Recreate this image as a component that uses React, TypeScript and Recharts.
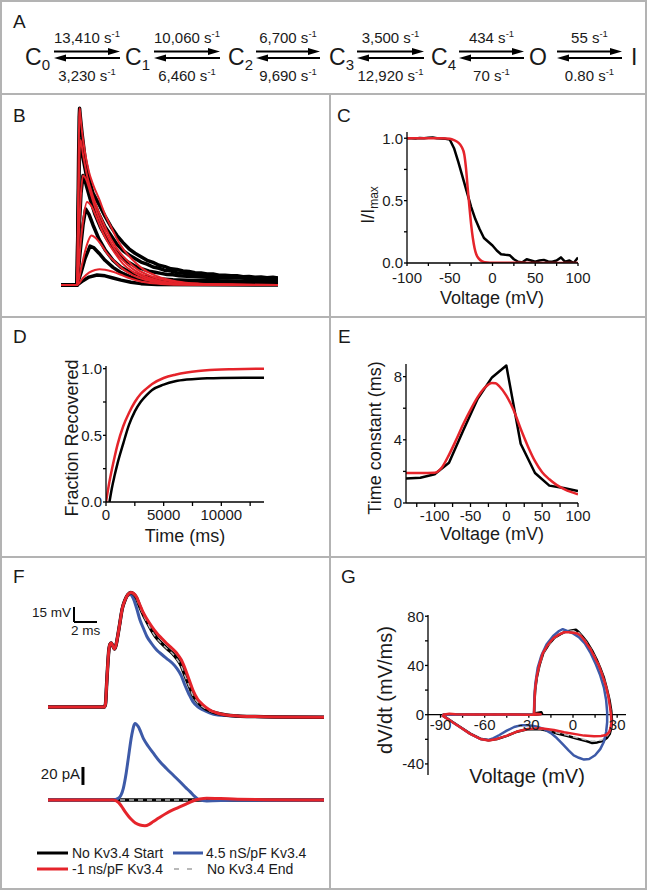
import { LineChart, Line, XAxis, YAxis, ReferenceLine, ReferenceDot } from 'recharts';

const FONT = '"Liberation Sans", Arial, Helvetica, sans-serif';
const INK = '#1a1a1a';
const RED = '#e5242b';
const BLUE = '#3d5aa8';
const DASH = '#b9b9b9';
const RULE = '#b3b3b3';

// ---- A: kinetic scheme ----
const stateNames = ['C', 'C', 'C', 'C', 'C', 'O', 'I'];
const stateSubs = ['0', '1', '2', '3', '4', '', ''];
const forwardRates = ['13,410', '10,060', '6,700', '3,500', '434', '55'];
const backwardRates = ['3,230', '6,460', '9,690', '12,920', '70', '0.80'];

// ---- B: inactivation traces (t ms, normalised current) ----
const bBlack1 = [[-8,0],[0,0],[0.4,0.3],[0.8,0.72],[1.1,0.95],[1.3,1.0],[1.6,0.96],[2.5,0.86],[4,0.72],[6,0.6],[8,0.52],[11.3,0.45],[14,0.39],[17,0.33],[20,0.28],[23,0.24],[26,0.205],[29,0.18],[32,0.16],[35,0.14],[38,0.128],[41,0.112],[44,0.104],[47,0.092],[50,0.088],[53,0.08],[56,0.077],[59,0.07],[62,0.068],[65,0.062],[68,0.063],[71,0.056],[74,0.055],[77,0.052],[80,0.053],[83,0.047],[86,0.049],[89,0.044],[92,0.046],[95,0.041],[98,0.044],[100.5,0.04]];
const bBlack2 = [[-8,0],[0,0],[0.6,0.4],[1.2,0.72],[1.8,0.82],[3,0.72],[5,0.6],[8,0.48],[11,0.4],[14,0.33],[17,0.28],[20,0.23],[23,0.195],[26,0.17],[29,0.15],[32,0.13],[35,0.118],[38,0.102],[41,0.095],[44,0.083],[47,0.079],[50,0.07],[53,0.068],[56,0.061],[59,0.06],[62,0.054],[65,0.055],[68,0.049],[71,0.05],[74,0.045],[77,0.047],[80,0.042],[83,0.044],[86,0.039],[89,0.041],[92,0.037],[95,0.04],[98,0.036],[100.5,0.038]];
const bBlack3 = [[-8,0],[0,0],[1,0.3],[2,0.52],[3,0.62],[4.5,0.57],[6.5,0.49],[9,0.4],[12,0.32],[15,0.26],[18,0.21],[21,0.17],[24,0.14],[27,0.12],[30,0.1],[33,0.09],[36,0.078],[39,0.072],[42,0.066],[45,0.06],[48,0.058],[51,0.052],[55,0.05],[60,0.047],[65,0.044],[70,0.045],[75,0.04],[80,0.042],[85,0.037],[90,0.039],[95,0.035],[100.5,0.036]];
const bBlack4 = [[-8,0],[0,0],[1.5,0.18],[3,0.34],[4.3,0.43],[6,0.4],[8,0.34],[11,0.26],[14,0.2],[18,0.14],[22,0.1],[27,0.07],[33,0.05],[40,0.036],[48,0.03],[58,0.026],[70,0.024],[85,0.021],[100.5,0.02]];
const bBlack5 = [[-8,0],[0,0],[2,0.07],[4,0.15],[6.5,0.22],[8.5,0.21],[11,0.18],[14,0.14],[18,0.1],[22,0.07],[27,0.045],[33,0.03],[42,0.02],[55,0.015],[100.5,0.012]];
const bBlack6 = [[-8,0],[0,0],[3,0.025],[6,0.045],[10,0.057],[14,0.052],[18,0.04],[22,0.028],[27,0.016],[32,0.008],[40,0.003],[100.5,0]];
const bRed1 = [[-8,0],[0,0],[0.4,0.3],[0.8,0.72],[1.1,0.95],[1.3,1.0],[1.6,0.97],[2.5,0.87],[4,0.75],[6,0.64],[8,0.57],[11.3,0.48],[14,0.4],[17,0.33],[20,0.26],[24,0.19],[28,0.14],[33,0.09],[40,0.05],[50,0.02],[61,0.008],[80,0.002],[100.5,0]];
const bRed2 = [[-8,0],[0,0],[0.6,0.4],[1.2,0.72],[1.8,0.82],[3,0.74],[5,0.62],[8,0.5],[11,0.41],[14,0.33],[17,0.26],[21,0.19],[25,0.14],[30,0.09],[37,0.05],[45,0.025],[60,0.007],[100.5,0]];
const bRed3 = [[-8,0],[0,0],[1,0.3],[2,0.52],[3,0.62],[4.5,0.6],[6.5,0.53],[9,0.44],[12,0.35],[15,0.28],[19,0.2],[23,0.14],[28,0.09],[34,0.05],[42,0.022],[55,0.006],[100.5,0]];
const bRed4 = [[-8,0],[0,0],[1.5,0.2],[3,0.36],[5,0.47],[7,0.45],[9.5,0.39],[12,0.32],[15,0.25],[19,0.18],[23,0.12],[28,0.075],[34,0.04],[42,0.016],[55,0.004],[100.5,0]];
const bRed5 = [[-8,0],[0,0],[2,0.09],[4,0.19],[6,0.26],[7.2,0.28],[9,0.27],[12,0.23],[15,0.18],[19,0.13],[23,0.09],[28,0.055],[34,0.03],[42,0.012],[55,0.003],[100.5,0]];
const bRed6 = [[-8,0],[0,0],[3,0.04],[6,0.07],[9,0.085],[11.3,0.09],[14,0.087],[18,0.075],[22,0.058],[26,0.04],[30,0.026],[35,0.014],[42,0.006],[55,0.001],[100.5,0]];

// ---- C: steady-state inactivation (mV, I/Imax) ----
const cBlack = [[-100,1.0],[-95,1.0],[-90,0.998],[-85,1.002],[-80,1.0],[-75,1.004],[-70,1.006],[-65,1.0],[-60,0.998],[-55,0.995],[-50,0.99],[-45,0.92],[-40,0.81],[-35,0.69],[-30,0.57],[-25,0.45],[-20,0.35],[-15,0.27],[-10,0.2],[-5,0.17],[0,0.14],[5,0.1],[10,0.07],[15,0.066],[20,0.063],[25,0.03],[30,0.01],[35,0.005],[40,0.03],[45,0.02],[50,0.01],[55,0.02],[60,0.025],[65,0.012],[70,0.01],[75,0.02],[80,0.045],[85,0.01],[90,0.02],[95,0.0],[100,0.045]];
const cRed = [[-100,1],[-70,1],[-60,0.999],[-50,0.995],[-45,0.985],[-40,0.965],[-36,0.93],[-33,0.87],[-31,0.76],[-29,0.6],[-27,0.45],[-25,0.31],[-23,0.2],[-21,0.12],[-19,0.07],[-16,0.035],[-12,0.014],[-6,0.004],[0,0.002],[50,0.001],[100,0]];

// ---- D: recovery from inactivation (ms, fraction) ----
const dBlack = [[300,0],[500,0.1],[750,0.2],[1000,0.29],[1500,0.44],[2000,0.58],[2500,0.68],[3000,0.75],[3500,0.8],[4000,0.84],[5000,0.88],[6000,0.905],[7000,0.918],[8000,0.925],[9000,0.928],[10000,0.93],[12000,0.931],[13700,0.932]];
const dRed = [[0,0],[250,0.13],[500,0.24],[750,0.34],[1000,0.43],[1500,0.57],[2000,0.67],[2500,0.75],[3000,0.81],[3500,0.85],[4000,0.885],[5000,0.93],[6000,0.955],[7000,0.972],[8000,0.983],[9000,0.99],[10000,0.994],[11000,0.996],[12000,0.998],[13700,1.0]];

// ---- E: time constants (mV, ms) ----
const eBlack = [[-140,1.55],[-120,1.6],[-100,1.82],[-80,2.55],[-60,4.6],[-40,6.6],[-20,7.95],[0,8.7],[20,3.75],[40,1.9],[60,1.1],[80,0.95],[100,0.75]];
const eRed = [[-140,1.9],[-120,1.9],[-100,1.92],[-90,2.25],[-80,3.05],[-70,4.0],[-60,5.0],[-50,5.9],[-40,6.7],[-30,7.3],[-20,7.6],[-15,7.58],[-10,7.4],[0,6.8],[10,5.9],[20,4.7],[30,3.6],[40,2.65],[50,1.95],[60,1.5],[70,1.15],[80,0.9],[90,0.7],[100,0.55]];

// ---- F: action potentials (ms, mV) and Kv3.4 currents (ms, pA) ----
const fVBlack = [[0,-88],[4.9,-88],[5.0,-85],[5.1,-65],[5.2,-45],[5.3,-30],[5.4,-25],[5.5,-24],[5.62,-26.5],[5.78,-30],[5.92,-26],[6.05,-18],[6.25,-4],[6.45,10],[6.7,19],[6.95,24.5],[7.2,26.5],[7.45,25],[7.7,21],[8.0,12],[8.3,4],[8.6,-2.7],[9.0,-11],[9.45,-19],[9.9,-24.5],[10.3,-29],[10.8,-34],[11.2,-39.5],[11.6,-47],[11.9,-56],[12.25,-66],[12.6,-76],[13.0,-83],[13.5,-88],[14.0,-91.5],[14.7,-94.3],[15.5,-96],[16.5,-97],[18,-97.6],[20,-98],[24,-98.3]];
const fVGray = [[0,-88],[4.9,-88],[5.0,-85],[5.1,-65],[5.2,-45],[5.3,-30],[5.4,-25],[5.5,-24],[5.62,-26.5],[5.78,-30],[5.92,-26],[6.05,-18],[6.25,-4],[6.45,10],[6.7,19],[6.95,24.5],[7.2,26.4],[7.45,24.8],[7.7,20.6],[8.0,11.6],[8.3,3.6],[8.6,-3],[9.0,-11.4],[9.45,-19.3],[9.9,-24.8],[10.3,-29.3],[10.8,-34.3],[11.2,-40],[11.6,-47.5],[11.9,-56.5],[12.25,-66.5],[12.6,-76.5],[13.0,-83.3],[13.5,-88.2],[14.0,-91.6],[14.7,-94.3],[15.5,-96],[16.5,-97],[18,-97.6],[20,-98],[24,-98.3]];
const fVBlue = [[0,-88],[4.9,-88],[5.0,-85],[5.1,-65],[5.2,-45],[5.3,-30],[5.4,-25],[5.5,-24],[5.62,-26.5],[5.78,-30],[5.92,-26],[6.05,-18],[6.25,-4],[6.45,10],[6.7,19],[6.95,24],[7.15,24.5],[7.4,21],[7.7,11],[8.0,-1],[8.3,-9.5],[8.6,-17.5],[9.0,-24.5],[9.45,-31],[9.9,-35.5],[10.3,-39.3],[10.8,-44],[11.2,-49.3],[11.6,-57],[11.9,-66],[12.25,-75],[12.6,-82.7],[13.0,-87.5],[13.5,-91],[14.0,-93.5],[14.4,-95.3],[15.5,-96.6],[16.5,-97.2],[18,-97.6],[20,-98],[24,-98.3]];
const fVRed = [[0,-88],[4.9,-88],[5.0,-85],[5.1,-65],[5.2,-45],[5.3,-30],[5.4,-25],[5.5,-24],[5.62,-26.5],[5.78,-30],[5.92,-26],[6.05,-18],[6.25,-4],[6.45,10],[6.7,19],[6.95,24.5],[7.2,26.5],[7.45,25.5],[7.7,22],[8.0,14],[8.3,6],[8.6,0],[9.0,-7],[9.45,-14],[9.9,-19.5],[10.3,-24.3],[10.8,-29.5],[11.2,-34.3],[11.6,-41],[11.9,-49],[12.25,-60],[12.6,-71],[13.0,-80],[13.5,-86],[14.0,-90.5],[14.7,-94],[15.5,-96],[16.5,-97],[18,-97.6],[20,-98],[24,-98.3]];
const fIBlack = [[0,0],[24,0]];
const fIGray = [[0,0],[24,0]];
const fIBlue = [[0,0],[5.68,0],[6.12,1.9],[6.55,13],[6.8,30],[6.98,46],[7.28,72],[7.57,85],[7.85,81.5],[8.29,68.5],[8.7,60],[9.16,52],[9.7,43],[10.3,35],[10.9,27.5],[11.5,20],[12.0,13.5],[12.35,9.3],[12.7,4.5],[13.07,0.7],[13.8,-1],[16.1,-0.4],[24,0]];
const fIRed = [[0,0],[5.68,0],[6.12,-2.6],[6.4,-7],[6.7,-13],[7.0,-18],[7.28,-22],[7.6,-25.5],[8.0,-27.8],[8.43,-28.5],[8.8,-27],[9.16,-24],[9.7,-19.5],[10.3,-14.8],[10.9,-10.8],[11.5,-7.4],[12.0,-4.5],[12.6,-1.1],[13.2,1],[13.8,1.9],[15,1.6],[16.1,1.1],[19,0.4],[24,0]];
const fLegend = ['No Kv3.4 Start', '4.5 nS/pF Kv3.4', '-1 ns/pF Kv3.4', 'No Kv3.4 End'];

// ---- G: phase plots (mV, mV/ms) ----
const gBlack = [[-88.5,0],[-80,0.2],[-60,0.1],[-40,0.1],[-27,0],[-21,0.8],[-21.5,2],[-26.4,1],[-26.2,10],[-25.7,20],[-24.6,30],[-22.8,40],[-20.2,50],[-16.5,57],[-12.5,62.5],[-8.5,65.5],[-5,67.5],[-1,68.5],[2,69],[4,67],[6.5,63.5],[9.5,59],[13,52],[16,45],[18.5,38],[21,30],[23,21],[24.8,12],[26,3],[26.5,-5],[26,-11],[25,-15.5],[23,-19],[20,-21.5],[16.5,-22.5],[13,-23],[9,-21.5],[3,-19.5],[-3,-17.5],[-10,-15.5],[-17,-13],[-22,-11.8],[-31,-11.8],[-38,-13.8],[-44.8,-17.2],[-51.6,-19.7],[-57.3,-20.8],[-63,-19.5],[-69.8,-15.4],[-76.6,-10],[-82.3,-5.5],[-86.8,-2],[-89,-0.4]];
const gGray = [[-88.5,0],[-60,0.1],[-27,0],[-26.4,1],[-26.2,10],[-25.7,20],[-24.6,30],[-22.8,40],[-20.2,50],[-16.5,57],[-12.5,62.5],[-8.5,65.5],[-5,67.2],[-1,68],[2,68.2],[4,66.5],[6.5,63],[9.5,58.5],[13,51.5],[16,44.5],[18.5,37.5],[21,29.5],[23,20.5],[24.6,11.5],[25.7,3],[26.2,-5],[25.7,-11],[24.6,-15],[22.6,-18.3],[19.6,-20.5],[16.5,-21.2],[13,-21.5],[9,-20.5],[3,-18.8],[-3,-17],[-10,-15],[-17,-12.8],[-22,-11.6],[-31,-11.8],[-38,-13.8],[-44.8,-17.1],[-51.6,-19.7],[-57.3,-20.9],[-63,-19.6],[-69.8,-15.5],[-76.6,-10.1],[-82.3,-5.6],[-86.8,-2.1],[-89,-0.4]];
const gBlue = [[-88.5,0],[-60,0.1],[-27,0],[-26.5,1],[-26.3,12],[-25.6,25],[-24,38],[-21.5,48],[-18,57],[-13.5,64],[-9.5,68],[-7,69.5],[-4,68],[0,66],[4,63],[8,58],[12,50],[15.5,41],[18.5,32],[21,22],[22.5,12],[23.2,2],[23.2,-6],[22.5,-14],[21,-22],[18.5,-28],[15,-33],[11,-36],[7.5,-36.5],[4,-35],[0.5,-33],[-3,-29],[-7,-24],[-11,-19],[-15,-15],[-20,-11.5],[-25,-9.5],[-30,-8.5],[-35,-8.5],[-40,-10],[-45,-13],[-50,-16.5],[-54,-19],[-57.3,-20.5],[-63,-19.7],[-69.8,-15.6],[-76.6,-10.2],[-82.3,-5.7],[-86.8,-2.2],[-89,-0.5]];
const gRed = [[-88.5,0],[-84,0.8],[-80,0.3],[-70,0.2],[-60,0.2],[-50,0.1],[-40,0.1],[-30,0],[-26.8,0],[-22,0.3],[-26.5,1],[-26.2,10],[-25.8,20],[-24.8,30],[-23,40],[-20.5,50],[-17,57],[-13,62.5],[-9,65.5],[-6,67],[-3,67],[0,66.5],[3,66],[5.5,64],[8,60],[12,53],[15,46],[17.7,39.6],[20,32],[22.3,23.4],[24,15],[25,7.3],[25.8,0],[26.1,-6.2],[25.5,-11],[24.5,-14.3],[22.5,-16.5],[19,-17.3],[14.3,-17.5],[7.5,-17],[0.7,-15.6],[-6,-14.3],[-13,-12.4],[-22,-11],[-31,-11.6],[-38,-13.7],[-44.8,-17],[-51.6,-19.7],[-57.3,-21],[-63,-19.7],[-69.8,-15.6],[-76.6,-10.2],[-82.3,-5.7],[-86.8,-2.2],[-89,-0.5]];

const cVoltTicks = [-100, -75, -50, -25, 0, 25, 50, 75, 100];
const fracTicks = [0, 0.25, 0.5, 0.75, 1];
const dTimeTicks = [0, 2500, 5000, 7500, 10000, 12500];
const eVoltTicks = [-125, -100, -75, -50, -25, 0, 25, 50, 75, 100];
const eTauTicks = [0, 2, 4, 6, 8];
const gVoltTicks = [-90, -75, -60, -45, -30, -15, 0, 15, 30];
const gRateTicks = [-40, -20, 0, 20, 40, 60, 80];

const toXY = (rows: number[][]) => rows.map(([x, y]) => ({ x, y }));

const tickText = { fill: INK, fontSize: 15, fontFamily: FONT };
const axisStroke = { stroke: '#000', strokeWidth: 1.3 };

function trace(rows: number[][], color: string, width: number, key: string, curve: any = 'monotone', extra: any = {}) {
  return (
    <Line
      key={key}
      data={toXY(rows)}
      dataKey="y"
      type={curve}
      stroke={color}
      strokeWidth={width}
      dot={false}
      activeDot={false}
      isAnimationActive={false}
      strokeLinejoin="round"
      {...extra}
    />
  );
}

function Abs({ left, top, children }: { left: number; top: number; children: any }) {
  return <div style={{ position: 'absolute', left, top }}>{children}</div>;
}

function Rate({ x, y, value }: { x: number; y: number; value: string }) {
  return (
    <text x={x} y={y} textAnchor="middle" fontSize={15} fill={INK}>
      {value} s<tspan dy={-6} fontSize={9.5}>-1</tspan>
    </text>
  );
}

function Scheme() {
  const stateX = [25, 125, 228, 329, 431, 529, 631];
  const arrowX = [[54, 120], [154, 220], [256, 320], [357, 424], [459, 524], [557, 622]];
  const yTop = 51.5;
  const yBot = 58;
  return (
    <g>
      {stateNames.map((s, i) => (
        <text key={'s' + i} x={stateX[i]} y={65} fontSize={23} fill={INK}>
          {s}
          {stateSubs[i] && <tspan dy={5} fontSize={15}>{stateSubs[i]}</tspan>}
        </text>
      ))}
      {arrowX.map(([x1, x2], i) => (
        <g key={'a' + i}>
          <line x1={x1} y1={yTop} x2={x2 - 8} y2={yTop} stroke="#000" strokeWidth={2} />
          <polygon points={`${x2},${yTop} ${x2 - 12},${yTop - 3.4} ${x2 - 12},${yTop + 3.4}`} fill="#000" />
          <line x1={x1 + 8} y1={yBot} x2={x2} y2={yBot} stroke="#000" strokeWidth={2} />
          <polygon points={`${x1},${yBot} ${x1 + 12},${yBot - 3.4} ${x1 + 12},${yBot + 3.4}`} fill="#000" />
          <Rate x={(x1 + x2) / 2} y={43} value={forwardRates[i]} />
          <Rate x={(x1 + x2) / 2} y={81} value={backwardRates[i]} />
        </g>
      ))}
    </g>
  );
}

function Overlay() {
  const label = (x: number, y: number, s: string) => (
    <text x={x} y={y} fontSize={19} fill={INK}>{s}</text>
  );
  const rot = (x: number, y: number, size: number, content: any) => (
    <text x={x} y={y} fontSize={size} fill={INK} textAnchor="middle" transform={`rotate(-90 ${x} ${y})`}>
      {content}
    </text>
  );
  const mid = (x: number, y: number, size: number, s: string) => (
    <text x={x} y={y} fontSize={size} fill={INK} textAnchor="middle">{s}</text>
  );
  return (
    <svg width={648} height={891} style={{ position: 'absolute', left: 0, top: 0, pointerEvents: 'none', fontFamily: FONT }}>
      <rect x={1} y={1} width={645} height={888} fill="none" stroke={RULE} strokeWidth={2} />
      <line x1={1} y1={94} x2={646} y2={94} stroke={RULE} strokeWidth={2} />
      <line x1={1} y1={317} x2={646} y2={317} stroke={RULE} strokeWidth={2} />
      <line x1={1} y1={557} x2={646} y2={557} stroke={RULE} strokeWidth={2} />
      <line x1={330} y1={94} x2={330} y2={889} stroke={RULE} strokeWidth={2} />

      {label(13, 28, 'A')}
      {label(13, 122, 'B')}
      {label(337, 122, 'C')}
      {label(13, 343, 'D')}
      {label(338, 343, 'E')}
      {label(13, 583, 'F')}
      {label(341, 583, 'G')}

      <Scheme />

      {mid(492, 304, 18, 'Voltage (mV)')}
      {rot(374, 205, 18, <>I/I<tspan dy={4} fontSize={12}>max</tspan></>)}
      {mid(185, 542, 18, 'Time (ms)')}
      {rot(78, 438, 18, 'Fraction Recovered')}
      {mid(492, 540, 18, 'Voltage (mV)')}
      {rot(381, 438, 18, 'Time constant (ms)')}
      {mid(527, 783, 20, 'Voltage (mV)')}
      {rot(392, 690, 20, 'dV/dt (mV/ms)')}

      <text x={71} y={617} fontSize={13.5} fill={INK} textAnchor="end">15 mV</text>
      <text x={71} y={635} fontSize={13.5} fill={INK}>2 ms</text>
      <text x={80} y={779} fontSize={15} fill={INK} textAnchor="end">20 pA</text>

      <line x1={37} y1={853} x2={68} y2={853} stroke="#000" strokeWidth={3} />
      <text x={72} y={858} fontSize={14} fill={INK}>{fLegend[0]}</text>
      <line x1={173} y1={853} x2={203} y2={853} stroke={BLUE} strokeWidth={3} />
      <text x={206} y={858} fontSize={14} fill={INK}>{fLegend[1]}</text>
      <line x1={37} y1={869} x2={68} y2={869} stroke={RED} strokeWidth={3} />
      <text x={72} y={874} fontSize={14} fill={INK}>{fLegend[2]}</text>
      <line x1={174} y1={869} x2={197} y2={869} stroke={DASH} strokeWidth={2} strokeDasharray="5 8" />
      <text x={207} y={874} fontSize={14} fill={INK}>{fLegend[3]}</text>
    </svg>
  );
}

function PanelB() {
  const blacks = [bBlack1, bBlack2, bBlack3, bBlack4, bBlack5, bBlack6];
  const reds = [bRed1, bRed2, bRed3, bRed4, bRed5, bRed6];
  return (
    <Abs left={61} top={100}>
      <LineChart width={217} height={190} margin={{ top: 0, right: 0, bottom: 0, left: 0 }}>
        <XAxis type="number" dataKey="x" domain={[-8, 100.5]} hide allowDataOverflow />
        <YAxis type="number" domain={[-0.028, 1.047]} hide allowDataOverflow />
        {blacks.map((b, i) => trace(b, '#000', 3.5, 'bk' + i, 'linear'))}
        {reds.map((r, i) => trace(r, RED, 2, 'rd' + i))}
      </LineChart>
    </Abs>
  );
}

function PanelC() {
  return (
    <Abs left={357} top={127}>
      <LineChart width={236} height={166} margin={{ top: 5, right: 15, bottom: 0, left: 0 }}>
        <XAxis type="number" dataKey="x" domain={[-100, 100]} ticks={cVoltTicks} interval={0}
          tickFormatter={(v: number) => (v % 50 === 0 ? String(v) : '')}
          height={30} tickSize={3} tickMargin={6} axisLine={axisStroke} tickLine={axisStroke} tick={tickText} allowDataOverflow />
        <YAxis type="number" domain={[0, 1.05]} ticks={fracTicks} interval={0}
          tickFormatter={(v: number) => (v % 0.5 === 0 ? v.toFixed(1) : '')}
          width={50} tickSize={3} tickMargin={1} axisLine={axisStroke} tickLine={axisStroke} tick={tickText} allowDataOverflow />
        {trace(cBlack, '#000', 2.5, 'cb', 'linear')}
        {trace(cRed, RED, 2.5, 'cr')}
      </LineChart>
    </Abs>
  );
}

function PanelD() {
  return (
    <Abs left={61} top={361}>
      <LineChart width={223} height={171} margin={{ top: 5, right: 20, bottom: 0, left: 0 }}>
        <XAxis type="number" dataKey="x" domain={[0, 13700]} ticks={dTimeTicks} interval={0}
          tickFormatter={(v: number) => (v % 5000 === 0 ? String(v) : '')}
          height={30} tickSize={4} tickMargin={3} axisLine={axisStroke} tickLine={axisStroke} tick={tickText} allowDataOverflow />
        <YAxis type="number" domain={[0, 1.02]} ticks={fracTicks} interval={0}
          tickFormatter={(v: number) => (v % 0.5 === 0 ? v.toFixed(1) : '')}
          width={45} tickSize={3} tickMargin={1} axisLine={axisStroke} tickLine={axisStroke} tick={tickText} allowDataOverflow />
        {trace(dBlack, '#000', 2.5, 'db')}
        {trace(dRed, RED, 2.5, 'dr')}
      </LineChart>
    </Abs>
  );
}

function PanelE() {
  return (
    <Abs left={361} top={359}>
      <LineChart width={237} height={174} margin={{ top: 5, right: 20, bottom: 0, left: 0 }}>
        <XAxis type="number" dataKey="x" domain={[-140, 100]} ticks={eVoltTicks} interval={0}
          tickFormatter={(v: number) => (v % 50 === 0 ? String(v) : '')}
          height={30} tickSize={4} tickMargin={3} axisLine={axisStroke} tickLine={axisStroke} tick={tickText} allowDataOverflow />
        <YAxis type="number" domain={[0, 8.8]} ticks={eTauTicks} interval={0}
          tickFormatter={(v: number) => (v % 4 === 0 ? String(v) : '')}
          width={45} tickSize={3} tickMargin={1} axisLine={axisStroke} tickLine={axisStroke} tick={tickText} allowDataOverflow />
        {trace(eBlack, '#000', 2.5, 'eb', 'linear')}
        {trace(eRed, RED, 2.5, 'er')}
      </LineChart>
    </Abs>
  );
}

function PanelF() {
  const vBar = 15; // mV
  const tBar = 2; // ms
  const iBar = 20; // pA
  return (
    <Abs left={48} top={585}>
      <LineChart width={276} height={250} margin={{ top: 0, right: 0, bottom: 0, left: 0 }}>
        <XAxis type="number" dataKey="x" domain={[0, 24]} hide allowDataOverflow />
        <YAxis yAxisId="v" type="number" domain={[-216, 34]} hide allowDataOverflow />
        <YAxis yAxisId="i" type="number" domain={[-38.9, 238.9]} hide allowDataOverflow />
        <ReferenceLine yAxisId="v" segment={[{ x: 2.26, y: -3 }, { x: 2.26, y: -3 + vBar }]} stroke="#000" strokeWidth={2} />
        <ReferenceLine yAxisId="v" segment={[{ x: 2.26, y: -3 }, { x: 2.26 + tBar, y: -3 }]} stroke="#000" strokeWidth={2} />
        <ReferenceLine yAxisId="i" segment={[{ x: 3.04, y: 16.7 }, { x: 3.04, y: 16.7 + iBar }]} stroke="#000" strokeWidth={3} />
        {trace(fVBlue, BLUE, 3, 'fvb', 'monotone', { yAxisId: 'v' })}
        {trace(fVBlack, '#000', 3.5, 'fvk', 'monotone', { yAxisId: 'v' })}
        {trace(fVGray, DASH, 1.5, 'fvg', 'monotone', { yAxisId: 'v', strokeDasharray: '5 4' })}
        {trace(fVRed, RED, 3, 'fvr', 'monotone', { yAxisId: 'v' })}
        {trace(fIBlack, '#000', 3.5, 'fik', 'linear', { yAxisId: 'i' })}
        {trace(fIGray, DASH, 1.5, 'fig', 'linear', { yAxisId: 'i', strokeDasharray: '5 4' })}
        {trace(fIBlue, BLUE, 3, 'fib', 'monotone', { yAxisId: 'i' })}
        {trace(fIRed, RED, 3, 'fir', 'monotone', { yAxisId: 'i' })}
      </LineChart>
    </Abs>
  );
}

function PanelG() {
  return (
    <Abs left={383} top={598}>
      <LineChart width={258} height={187} margin={{ top: 17, right: 15, bottom: 10, left: 0 }}>
        <XAxis type="number" dataKey="x" domain={[-98.5, 36]} hide allowDataOverflow />
        <YAxis type="number" domain={[-49, 81]} ticks={gRateTicks} interval={0}
          tickFormatter={(v: number) => (v % 40 === 0 ? String(v) : '')}
          width={45} tickSize={3} tickMargin={1} axisLine={axisStroke} tickLine={axisStroke} tick={tickText} allowDataOverflow />
        <ReferenceLine y={0} stroke="#000" strokeWidth={1.3} />
        {gVoltTicks.map((v) => (
          <ReferenceLine key={'gt' + v} segment={[{ x: v, y: 0 }, { x: v, y: -2.5 }]} stroke="#000" strokeWidth={1.3} />
        ))}
        {gVoltTicks.filter((v) => v % 30 === 0).map((v) => (
          <ReferenceDot key={'gl' + v} x={v} y={0} r={0} fill="none" stroke="none"
            label={{ value: String(v), position: 'bottom', offset: 5, fill: INK, fontSize: 15, fontFamily: FONT }} />
        ))}
        {trace(gBlack, '#000', 2.5, 'gk', 'linear')}
        {trace(gGray, DASH, 1.5, 'gg', 'linear', { strokeDasharray: '5 4' })}
        {trace(gBlue, BLUE, 2.5, 'gb', 'linear')}
        {trace(gRed, RED, 2.5, 'gr', 'linear')}
      </LineChart>
    </Abs>
  );
}

export default function App() {
  return (
    <div style={{ position: 'absolute', left: 0, top: 0, width: 648, height: 891, background: '#fff', fontFamily: FONT }}>
      <PanelB />
      <PanelC />
      <PanelD />
      <PanelE />
      <PanelF />
      <PanelG />
      <Overlay />
    </div>
  );
}
